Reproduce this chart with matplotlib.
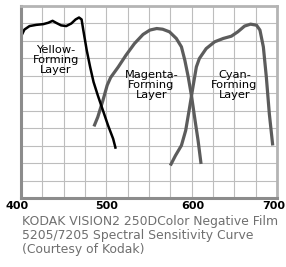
import matplotlib
matplotlib.use("Agg")
import matplotlib.pyplot as plt
import matplotlib.transforms as mtransforms
import numpy as np

# Data (wavelength nm, relative sensitivity in grid units)
yellow_nm = [400.8, 404, 410, 418, 426, 432, 437, 441, 447, 453, 459, 464, 468, 471, 473, 477, 481, 485, 490, 496, 502, 508, 511]
yellow_v = [9.33, 9.65, 9.85, 9.92, 9.96, 10.04, 10.15, 10.04, 9.89, 9.85, 10.0, 10.23, 10.34, 10.23, 9.62, 8.47, 7.51, 6.65, 5.88, 5.02, 4.16, 3.39, 2.82]

magenta_nm = [485.5, 490, 496, 501, 505, 514, 523, 533, 543, 551, 559, 566, 574, 582, 588, 592, 596, 600, 604, 607.5, 611]
magenta_v = [4.10, 4.64, 5.59, 6.46, 6.90, 7.51, 8.18, 8.85, 9.37, 9.62, 9.71, 9.67, 9.52, 9.14, 8.66, 7.89, 6.93, 5.79, 4.44, 3.30, 1.95]

cyan_nm = [575, 581, 588, 593, 597, 601.5, 605.5, 609, 617, 627, 637, 646.5, 654, 662, 669, 676, 680, 684, 687.5, 691, 695]
cyan_v = [1.86, 2.43, 3.01, 3.87, 5.02, 6.36, 7.51, 7.99, 8.56, 8.95, 9.14, 9.27, 9.52, 9.85, 9.96, 9.90, 9.62, 8.66, 6.93, 4.83, 3.01]

tick_values = [400, 500, 600, 700]
tick_labels = ["400", "500", "600", "700"]

labels = ["Yellow-\nForming\nLayer", "Magenta-\nForming\nLayer", "Cyan-\nForming\nLayer"]
label_x = [441, 553, 650]
label_y = [7.9, 6.5, 6.5]

caption = ["KODAK VISION2 250DColor Negative Film",
           "5205/7205 Spectral Sensitivity Curve",
           "(Courtesy of Kodak)"]

fig = plt.figure(figsize=(2.86, 2.67), dpi=100)
ax = fig.add_axes([21/286, 1 - 198/267, 256/286, 192/267])
ax.set_xlim(400, 700)
ax.set_ylim(0, 11)

ax.set_xticks(np.arange(400, 701, 25), minor=True)
ax.set_xticks(tick_values)
ax.set_xticklabels(tick_labels, fontsize=8, fontweight='semibold')
ax.set_yticks(np.arange(0, 12, 1))
ax.set_yticklabels([])
ax.tick_params(which='both', length=0)
ax.tick_params(axis='x', pad=2)
ax.grid(True, which='both', color='#bdbdbd', linewidth=0.8)
ax.set_axisbelow(True)

# nudge end labels inward like the reference
xl = ax.get_xticklabels()
shifts = [-4, 0, 1, -3]
for lab, dx in zip(xl, shifts):
    lab.set_transform(lab.get_transform() + mtransforms.ScaledTranslation(dx/100, 0, fig.dpi_scale_trans))

for s in ['left', 'bottom']:
    ax.spines[s].set_color('#8c8c8c')
    ax.spines[s].set_linewidth(2.2)
for s in ['top', 'right']:
    ax.spines[s].set_color('#b4b4b4')
    ax.spines[s].set_linewidth(2.0)

ax.plot(magenta_nm, magenta_v, color='#5c5c5c', linewidth=2.3, solid_capstyle='butt', clip_on=False)
ax.plot(cyan_nm, cyan_v, color='#5c5c5c', linewidth=2.3, solid_capstyle='butt', clip_on=False)
ax.plot(yellow_nm, yellow_v, color='black', linewidth=1.8, solid_capstyle='butt', clip_on=False)

for t, x, y in zip(labels, label_x, label_y):
    ax.text(x, y, t, ha='center', va='center', fontsize=8.2, linespacing=1.0, color='black')

for i, line in enumerate(caption):
    fig.text(22/286, 1 - (215 + 14 * i)/267, line, ha='left', va='top', fontsize=8.9, color='#6f6f6f')

fig.savefig("out.png", dpi=100)
